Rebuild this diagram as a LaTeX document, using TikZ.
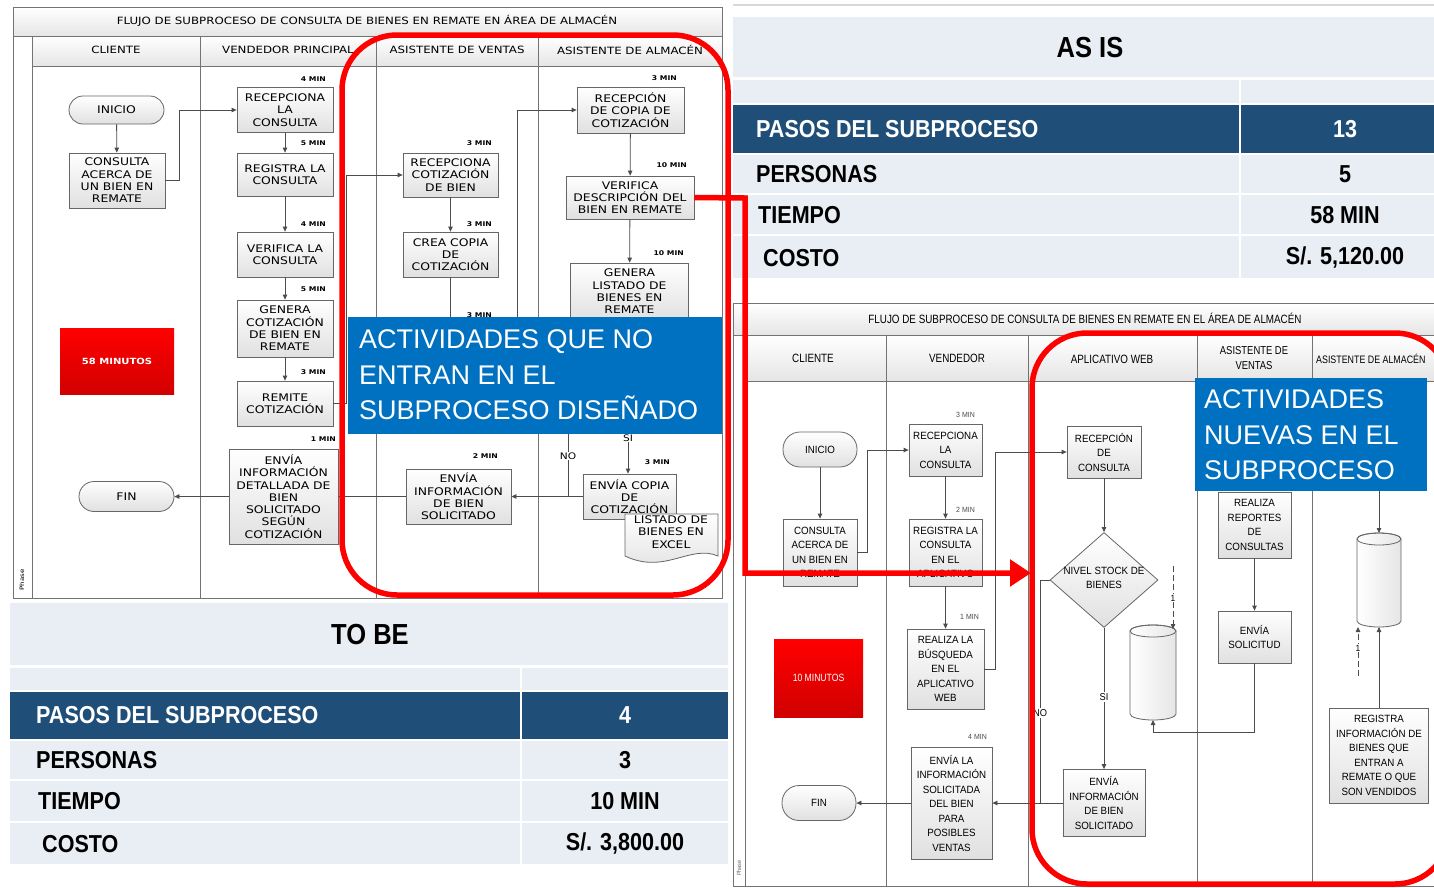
\documentclass[tikz,border=0pt]{standalone}
\usepackage{fontspec}
\setmainfont{Liberation Sans}
\newfontfamily\lfont[FakeStretch=1.18]{DejaVu Sans}
\newfontfamily\rfont[FakeStretch=0.93]{Liberation Sans}
\newfontfamily\hfont[FakeStretch=0.82]{Liberation Sans}
\newfontfamily\tfont[FakeStretch=0.88]{Liberation Sans}
\usetikzlibrary{arrows.meta,shapes.geometric,calc}
\definecolor{tabbg}{RGB}{233,237,244}
\definecolor{darkrow}{RGB}{31,78,121}
\definecolor{bluebox}{RGB}{0,112,192}
\definecolor{hotred}{RGB}{255,0,0}
\tikzset{
  lbox/.style={draw=black!60, line width=0.8pt, top color=white, bottom color=black!12, align=center, inner sep=0pt, font=\lfont\fontsize{10.5}{12.3}\selectfont},
  rbox/.style={draw=black!60, line width=0.8pt, top color=white, bottom color=black!12, align=center, inner sep=0pt, font=\rfont\fontsize{10.5}{14.5}\selectfont},
  ltime/.style={anchor=east, inner sep=0pt, font=\lfont\bfseries\fontsize{6.5}{7}\selectfont},
  rtime/.style={anchor=east, inner sep=0pt, text=black!70, font=\rfont\fontsize{7.5}{8}\selectfont},
  fl/.style={draw=black!70, line width=0.8pt},
  fla/.style={fl, -{Triangle[length=5pt,width=4.5pt]}},
  pframe/.style={draw=black!55, line width=1pt},
  hdr/.style={top color=white, bottom color=black!10},
  lhead/.style={inner sep=0pt, font=\lfont\fontsize{10}{12}\selectfont},
  rhead/.style={inner sep=0pt, align=center, font=\hfont\fontsize{12}{15}\selectfont},
  minbox/.style={top color=hotred, bottom color=hotred!82!black, text=white, align=center, inner sep=0pt},
  zone/.style={draw=hotred, line width=5.5pt, rounded corners=55pt},
  tabtxt/.style={font=\tfont\bfseries\fontsize{24.5}{28}\selectfont, inner sep=0pt},
  bluetxt/.style={text=white, align=left, inner sep=0pt, font=\fontsize{27}{35.5}\selectfont},
  dlabel/.style={fill=white, inner sep=1pt},
}
\begin{document}
\begin{tikzpicture}[x=1pt,y=-1pt]
\useasboundingbox (0,0) rectangle (1434,887);
\fill[white] (0,0) rectangle (1434,887);

% ================= AS IS table =================
\draw[black!15, line width=2pt] (733,5) -- (1434,5);
\fill[tabbg] (733,17) rectangle (1434,77);
\fill[tabbg] (733,80) rectangle (1434,103);
\fill[darkrow] (733,105) rectangle (1434,153);
\fill[tabbg] (733,155) rectangle (1434,193);
\fill[tabbg] (733,195) rectangle (1434,234);
\fill[tabbg] (733,236) rectangle (1434,278);
\draw[white, line width=2pt] (1240,80) -- (1240,278);
\node[font=\tfont\bfseries\fontsize{29}{32}\selectfont] (asis) at (1090,48) {AS IS};
\node[tabtxt, text=white, anchor=west] (a1) at (756,129) {PASOS DEL SUBPROCESO};
\node[tabtxt, text=white] (a1v) at (1345,129) {13};
\node[tabtxt, anchor=west] (a2) at (756,174) {PERSONAS};
\node[tabtxt] (a2v) at (1345,174) {5};
\node[tabtxt, anchor=west] (a3) at (758,215) {TIEMPO};
\node[tabtxt] (a3v) at (1345,215) {58 MIN};
\node[tabtxt, anchor=west] (a4) at (763,258) {COSTO};
\node[tabtxt] (a4v) at (1345,258) {S/. 5,120.00};

% ================= TO BE table =================
\fill[tabbg] (10,603) rectangle (728,665);
\fill[tabbg] (10,668) rectangle (728,690);
\fill[darkrow] (10,692) rectangle (728,739);
\fill[tabbg] (10,741) rectangle (728,779);
\fill[tabbg] (10,781) rectangle (728,821);
\fill[tabbg] (10,823) rectangle (728,864);
\draw[white, line width=2pt] (521,668) -- (521,864);
\node[font=\tfont\bfseries\fontsize{29}{32}\selectfont] (tobe) at (370,635) {TO BE};
\node[tabtxt, text=white, anchor=west] (b1) at (36,715) {PASOS DEL SUBPROCESO};
\node[tabtxt, text=white] (b1v) at (625,715) {4};
\node[tabtxt, anchor=west] (b2) at (36,760) {PERSONAS};
\node[tabtxt] (b2v) at (625,760) {3};
\node[tabtxt, anchor=west] (b3) at (38,801) {TIEMPO};
\node[tabtxt] (b3v) at (625,801) {10 MIN};
\node[tabtxt, anchor=west] (b4) at (42,844) {COSTO};
\node[tabtxt] (b4v) at (625,844) {S/. 3,800.00};

% ================= LEFT flowchart (AS IS) =================
\path[hdr] (13,7) rectangle (722,36);
\path[hdr] (32,36) rectangle (722,66);
\draw[pframe] (13,7) rectangle (722,598);
\draw[pframe] (13,36) -- (722,36);
\draw[pframe] (32,66) -- (722,66);
\draw[pframe] (32,36) -- (32,598);
\foreach \x in {200,376,538} \draw[pframe] (\x,36) -- (\x,598);
\node[lhead] (ltitle) at (367,21) {FLUJO DE SUBPROCESO DE CONSULTA DE BIENES EN REMATE EN ÁREA DE ALMACÉN};
\node[lhead] (lh1) at (116,50) {CLIENTE};
\node[lhead] (lh2) at (288,50) {VENDEDOR PRINCIPAL};
\node[lhead] (lh3) at (457,50) {ASISTENTE DE VENTAS};
\node[lhead] (lh4) at (630,50) {ASISTENTE DE ALMACÉN};
\node[rotate=90, inner sep=0pt, font=\lfont\fontsize{6}{7}\selectfont] (lphase) at (22,580) {Phase};

\node[lbox, minimum width=95, minimum height=28, rounded corners=14pt] (inicioL) at (116.5,110) {INICIO};
\node[lbox, minimum width=96, minimum height=55] (consL) at (117,180.5) {CONSULTA\\ACERCA DE\\UN BIEN EN\\REMATE};
\node[lbox, minimum width=96, minimum height=45] (recL) at (285,110) {RECEPCIONA\\LA\\CONSULTA};
\node[lbox, minimum width=96, minimum height=43] (regL) at (285,174.5) {REGISTRA LA\\CONSULTA};
\node[lbox, minimum width=96, minimum height=45] (verL) at (285,254.5) {VERIFICA LA\\CONSULTA};
\node[lbox, minimum width=96, minimum height=57] (genL) at (285,328.5) {GENERA\\COTIZACIÓN\\DE BIEN EN\\REMATE};
\node[lbox, minimum width=96, minimum height=45] (remL) at (285,403.5) {REMITE\\COTIZACIÓN};
\node[lbox, minimum width=109, minimum height=95] (envdL) at (283.5,496.5) {ENVÍA\\INFORMACIÓN\\DETALLADA DE\\BIEN\\SOLICITADO\\SEGÚN\\COTIZACIÓN};
\node[lbox, minimum width=95, minimum height=30, rounded corners=15pt] (finL) at (126.5,496.5) {FIN};
\node[minbox, minimum width=114, minimum height=66, font=\lfont\bfseries\fontsize{8.5}{10}\selectfont] (min58) at (117,361) {58 MINUTOS};
\node[lbox, minimum width=95, minimum height=44] (recotL) at (450.5,175) {RECEPCIONA\\COTIZACIÓN\\DE BIEN};
\node[lbox, minimum width=95, minimum height=45] (creaL) at (450.5,254.5) {CREA COPIA\\DE\\COTIZACIÓN};
\node[lbox, minimum width=105, minimum height=55] (envbL) at (458.5,496.5) {ENVÍA\\INFORMACIÓN\\DE BIEN\\SOLICITADO};
\node[lbox, minimum width=107, minimum height=46] (recopL) at (630.5,110) {RECEPCIÓN\\DE COPIA DE\\COTIZACIÓN};
\node[lbox, minimum width=128, minimum height=43] (verdL) at (630,197.5) {VERIFICA\\DESCRIPCIÓN DEL\\BIEN EN REMATE};
\node[lbox, minimum width=118, minimum height=57] (genlL) at (629.5,291.5) {GENERA\\LISTADO DE\\BIENES EN\\REMATE};
\node[lbox, minimum width=93, minimum height=45] (envcL) at (629.5,496.5) {ENVÍA COPIA\\DE\\COTIZACIÓN};
\draw[draw=black!60, line width=0.8pt, top color=white, bottom color=black!12] (625,514) -- (718,514) -- (718,556) .. controls (690,544) and (665,575) .. (625,556) -- cycle;
\node[align=center, inner sep=0pt, font=\lfont\fontsize{10.5}{12.3}\selectfont] (docL) at (671,532) {LISTADO DE\\BIENES EN\\EXCEL};

\node[ltime] at (326,79) {4 MIN};
\node[ltime] at (326,143) {5 MIN};
\node[ltime] at (326,224) {4 MIN};
\node[ltime] at (326,289) {5 MIN};
\node[ltime] at (326,372) {3 MIN};
\node[ltime] at (336,439) {1 MIN};
\node[ltime] at (492,143) {3 MIN};
\node[ltime] at (492,224) {3 MIN};
\node[ltime] at (492,315) {3 MIN};
\node[ltime] at (498,456) {2 MIN};
\node[ltime] at (677,78) {3 MIN};
\node[ltime] at (687,165) {10 MIN};
\node[ltime] at (684,253) {10 MIN};
\node[ltime] at (670,462) {3 MIN};

\draw[fla] (inicioL) -- (consL);
\draw[fla] (consL.east) -- ++(14,0) |- (recL.west);
\draw[fla] (recL) -- (regL);
\draw[fla] (regL) -- (verL);
\draw[fla] (verL) -- (genL);
\draw[fla] (genL) -- (remL);
\draw[fla] (remL.east) -- ++(13,0) |- (recotL.west);
\draw[fla] (recotL) -- (creaL);
\draw[fl] (creaL.south) -- ++(0,50);
\coordinate (hidA) at (517,340);
\draw[fla] (hidA) |- (recopL.west);
\draw[fla] (recopL) -- (verdL);
\draw[fla] (verdL) -- (genlL);
\coordinate (siTop) at (628,425);
\draw[fla] (siTop) -- (siTop |- envcL.north);
\node[dlabel, font=\lfont\fontsize{9}{10}\selectfont] (siL) at (628,438) {SI};
\coordinate (noTop) at (568,425);
\draw[fl] (noTop) -- (noTop |- envcL.west);
\node[dlabel, font=\lfont\fontsize{9}{10}\selectfont] (noL) at (568,456) {NO};
\draw[fla] (envcL.west) -- (envbL.east);
\draw[fla] (envbL.west) -- (envdL.east);
\draw[fla] (envdL.west) -- (finL.east);

% ================= RIGHT flowchart (TO BE) =================
\path[hdr] (733,303) rectangle (1434,335);
\path[hdr] (745,335) rectangle (1434,381);
\draw[pframe] (733,303) rectangle (1440,886);
\draw[pframe] (733,335) -- (1434,335);
\draw[pframe] (745,381) -- (1434,381);
\draw[pframe] (745,335) -- (745,886);
\foreach \x in {886,1028,1197,1312} \draw[pframe] (\x,335) -- (\x,886);
\node[rhead] (rtitle) at (1085,318) {FLUJO DE SUBPROCESO DE CONSULTA DE BIENES EN REMATE EN EL ÁREA DE ALMACÉN};
\node[rhead] (rh1) at (813,358) {CLIENTE};
\node[rhead] (rh2) at (957,358) {VENDEDOR};
\node[rhead] (rh3) at (1112,359) {APLICATIVO WEB};
\node[rhead, font=\hfont\fontsize{11.5}{15.5}\selectfont] (rh4) at (1254,358) {ASISTENTE DE\\VENTAS};
\node[rhead, anchor=west, font=\hfont\fontsize{10.8}{14}\selectfont] (rh5) at (1316,359) {ASISTENTE DE ALMACÉN};
\node[rotate=90, inner sep=0pt, font=\rfont\fontsize{6}{7}\selectfont, text=black!60] (rphase) at (739,868) {Phase};

\node[rbox, minimum width=74, minimum height=35, rounded corners=17pt] (inicioR) at (820,449.5) {INICIO};
\node[rbox, minimum width=74, minimum height=67] (consR) at (820,552.5) {CONSULTA\\ACERCA DE\\UN BIEN EN\\REMATE};
\node[rbox, minimum width=73, minimum height=52] (recR) at (945.5,450) {RECEPCIONA\\LA\\CONSULTA};
\node[rbox, minimum width=73, minimum height=67] (regR) at (945.5,552.5) {REGISTRA LA\\CONSULTA\\EN EL\\APLICATIVO};
\node[rbox, minimum width=77, minimum height=80] (busR) at (945.5,669) {REALIZA LA\\BÚSQUEDA\\EN EL\\APLICATIVO\\WEB};
\node[rbox, minimum width=81, minimum height=112] (envlR) at (951.5,803) {ENVÍA LA\\INFORMACIÓN\\SOLICITADA\\DEL BIEN\\PARA\\POSIBLES\\VENTAS};
\node[rbox, minimum width=74, minimum height=35, rounded corners=17pt] (finR) at (819,803) {FIN};
\node[minbox, minimum width=89, minimum height=78, font=\hfont\fontsize{10.5}{12}\selectfont] (min10) at (818.5,678) {10 MINUTOS};
\node[rbox, minimum width=74, minimum height=52] (recwR) at (1104,452) {RECEPCIÓN\\DE\\CONSULTA};
\node[diamond, draw=black!60, line width=0.8pt, top color=white, bottom color=black!12, minimum width=108, minimum height=95, inner sep=0pt] (diaR) at (1104,580) {};
\node[align=center, inner sep=0pt, font=\rfont\fontsize{10.5}{14.5}\selectfont] (diaT) at (1104,578) {NIVEL STOCK DE\\BIENES};
\node[rbox, minimum width=82, minimum height=67] (envwR) at (1104,803) {ENVÍA\\INFORMACIÓN\\DE BIEN\\SOLICITADO};
\node[rbox, minimum width=73, minimum height=66] (repR) at (1254.5,525) {REALIZA\\REPORTES\\DE\\CONSULTAS};
\node[rbox, minimum width=73, minimum height=52] (solR) at (1254.5,637) {ENVÍA\\SOLICITUD};
\node[rbox, minimum width=99, minimum height=95] (regiR) at (1379,755.5) {REGISTRA\\INFORMACIÓN DE\\BIENES QUE\\ENTRAN A\\REMATE O QUE\\SON VENDIDOS};

% cylinders (databases)
\draw[draw=black!60, line width=0.8pt, left color=white, right color=black!10] (1130,631) -- (1130,714) arc[start angle=180, end angle=0, x radius=23, y radius=6] -- (1176,631) arc[start angle=0, end angle=-180, x radius=23, y radius=6] -- cycle;
\draw[draw=black!60, line width=0.8pt] (1153,631) ellipse [x radius=23, y radius=6];
\coordinate (db1top) at (1173,629);
\coordinate (db1bot) at (1153,720);
\draw[draw=black!60, line width=0.8pt, left color=white, right color=black!10] (1357,539) -- (1357,621) arc[start angle=180, end angle=0, x radius=22, y radius=6] -- (1401,539) arc[start angle=0, end angle=-180, x radius=22, y radius=6] -- cycle;
\draw[draw=black!60, line width=0.8pt] (1379,539) ellipse [x radius=22, y radius=6];
\coordinate (db2top) at (1379,533);
\coordinate (db2bot) at (1379,627);

\node[rtime] at (975,415) {3 MIN};
\node[rtime] at (975,510) {2 MIN};
\node[rtime] at (979,617) {1 MIN};
\node[rtime] at (987,737) {4 MIN};

\draw[fla] (inicioR) -- (consR);
\draw[fla] (consR.east) -- ++(10,0) |- (recR.west);
\draw[fla] (recR) -- (regR);
\draw[fla] (regR) -- (busR);
\draw[fla] (busR.east) -- ++(11,0) |- (recwR.west);
\draw[fla] (recwR) -- (diaR);
\draw[fla] (diaR) -- (envwR);
\node[dlabel, font=\rfont\fontsize{10}{12}\selectfont] (siR) at (1104,697) {SI};
\draw[fl] (diaR.west) -| (1040,803);
\node[dlabel, font=\rfont\fontsize{10}{12}\selectfont] (noR) at (1040,713) {NO};
\draw[fla] (envwR.west) -- (envlR.east);
\draw[fla] (envlR.west) -- (finR.east);
\draw[fla] (repR) -- (solR);
\draw[fla] (solR.south) -- ++(0,69) -| (db1bot);
\coordinate (dsh1) at (1173,566);
\draw[fla, dash pattern=on 6pt off 3pt] (dsh1) -- (db1top);
\node[dlabel, font=\rfont\fontsize{9}{10}\selectfont] (one1) at (1173,598) {1};
\coordinate (blueB) at (1379,491);
\draw[fla] (blueB) -- (db2top);
\draw[fla] (regiR.north) -- (db2bot);
\coordinate (dsh2) at (1358,676);
\draw[fla, dash pattern=on 6pt off 3pt] (dsh2) -- (1358,627);
\node[dlabel, font=\rfont\fontsize{9}{10}\selectfont] (one2) at (1358,648) {1};

% ================= Blue callouts =================
\node[fill=bluebox, minimum width=374, minimum height=117, inner sep=0pt] (blue1) at (535,375) {};
\node[bluetxt, anchor=west] (blue1t) at (359,375) {ACTIVIDADES QUE NO\\ENTRAN EN EL\\SUBPROCESO DISEÑADO};
\node[fill=bluebox, minimum width=232, minimum height=113, inner sep=0pt] (blue2) at (1311,434.5) {};
\node[bluetxt, anchor=west] (blue2t) at (1204,435) {ACTIVIDADES\\NUEVAS EN EL\\SUBPROCESO};

% ================= Red zones and connector =================
\draw[zone] (342,35) rectangle (728,595);
\draw[zone] (1032,333) rectangle (1450,884);
\coordinate (rc1) at (745,198);
\coordinate (rc2) at (745,573);
\coordinate (rc3) at (1031,573);
\draw[hotred, line width=5.5pt, -{Triangle[length=21pt,width=26pt]}] (verdL.east) -- (rc1) -- (rc2) -- (rc3);
\end{tikzpicture}
\end{document}
